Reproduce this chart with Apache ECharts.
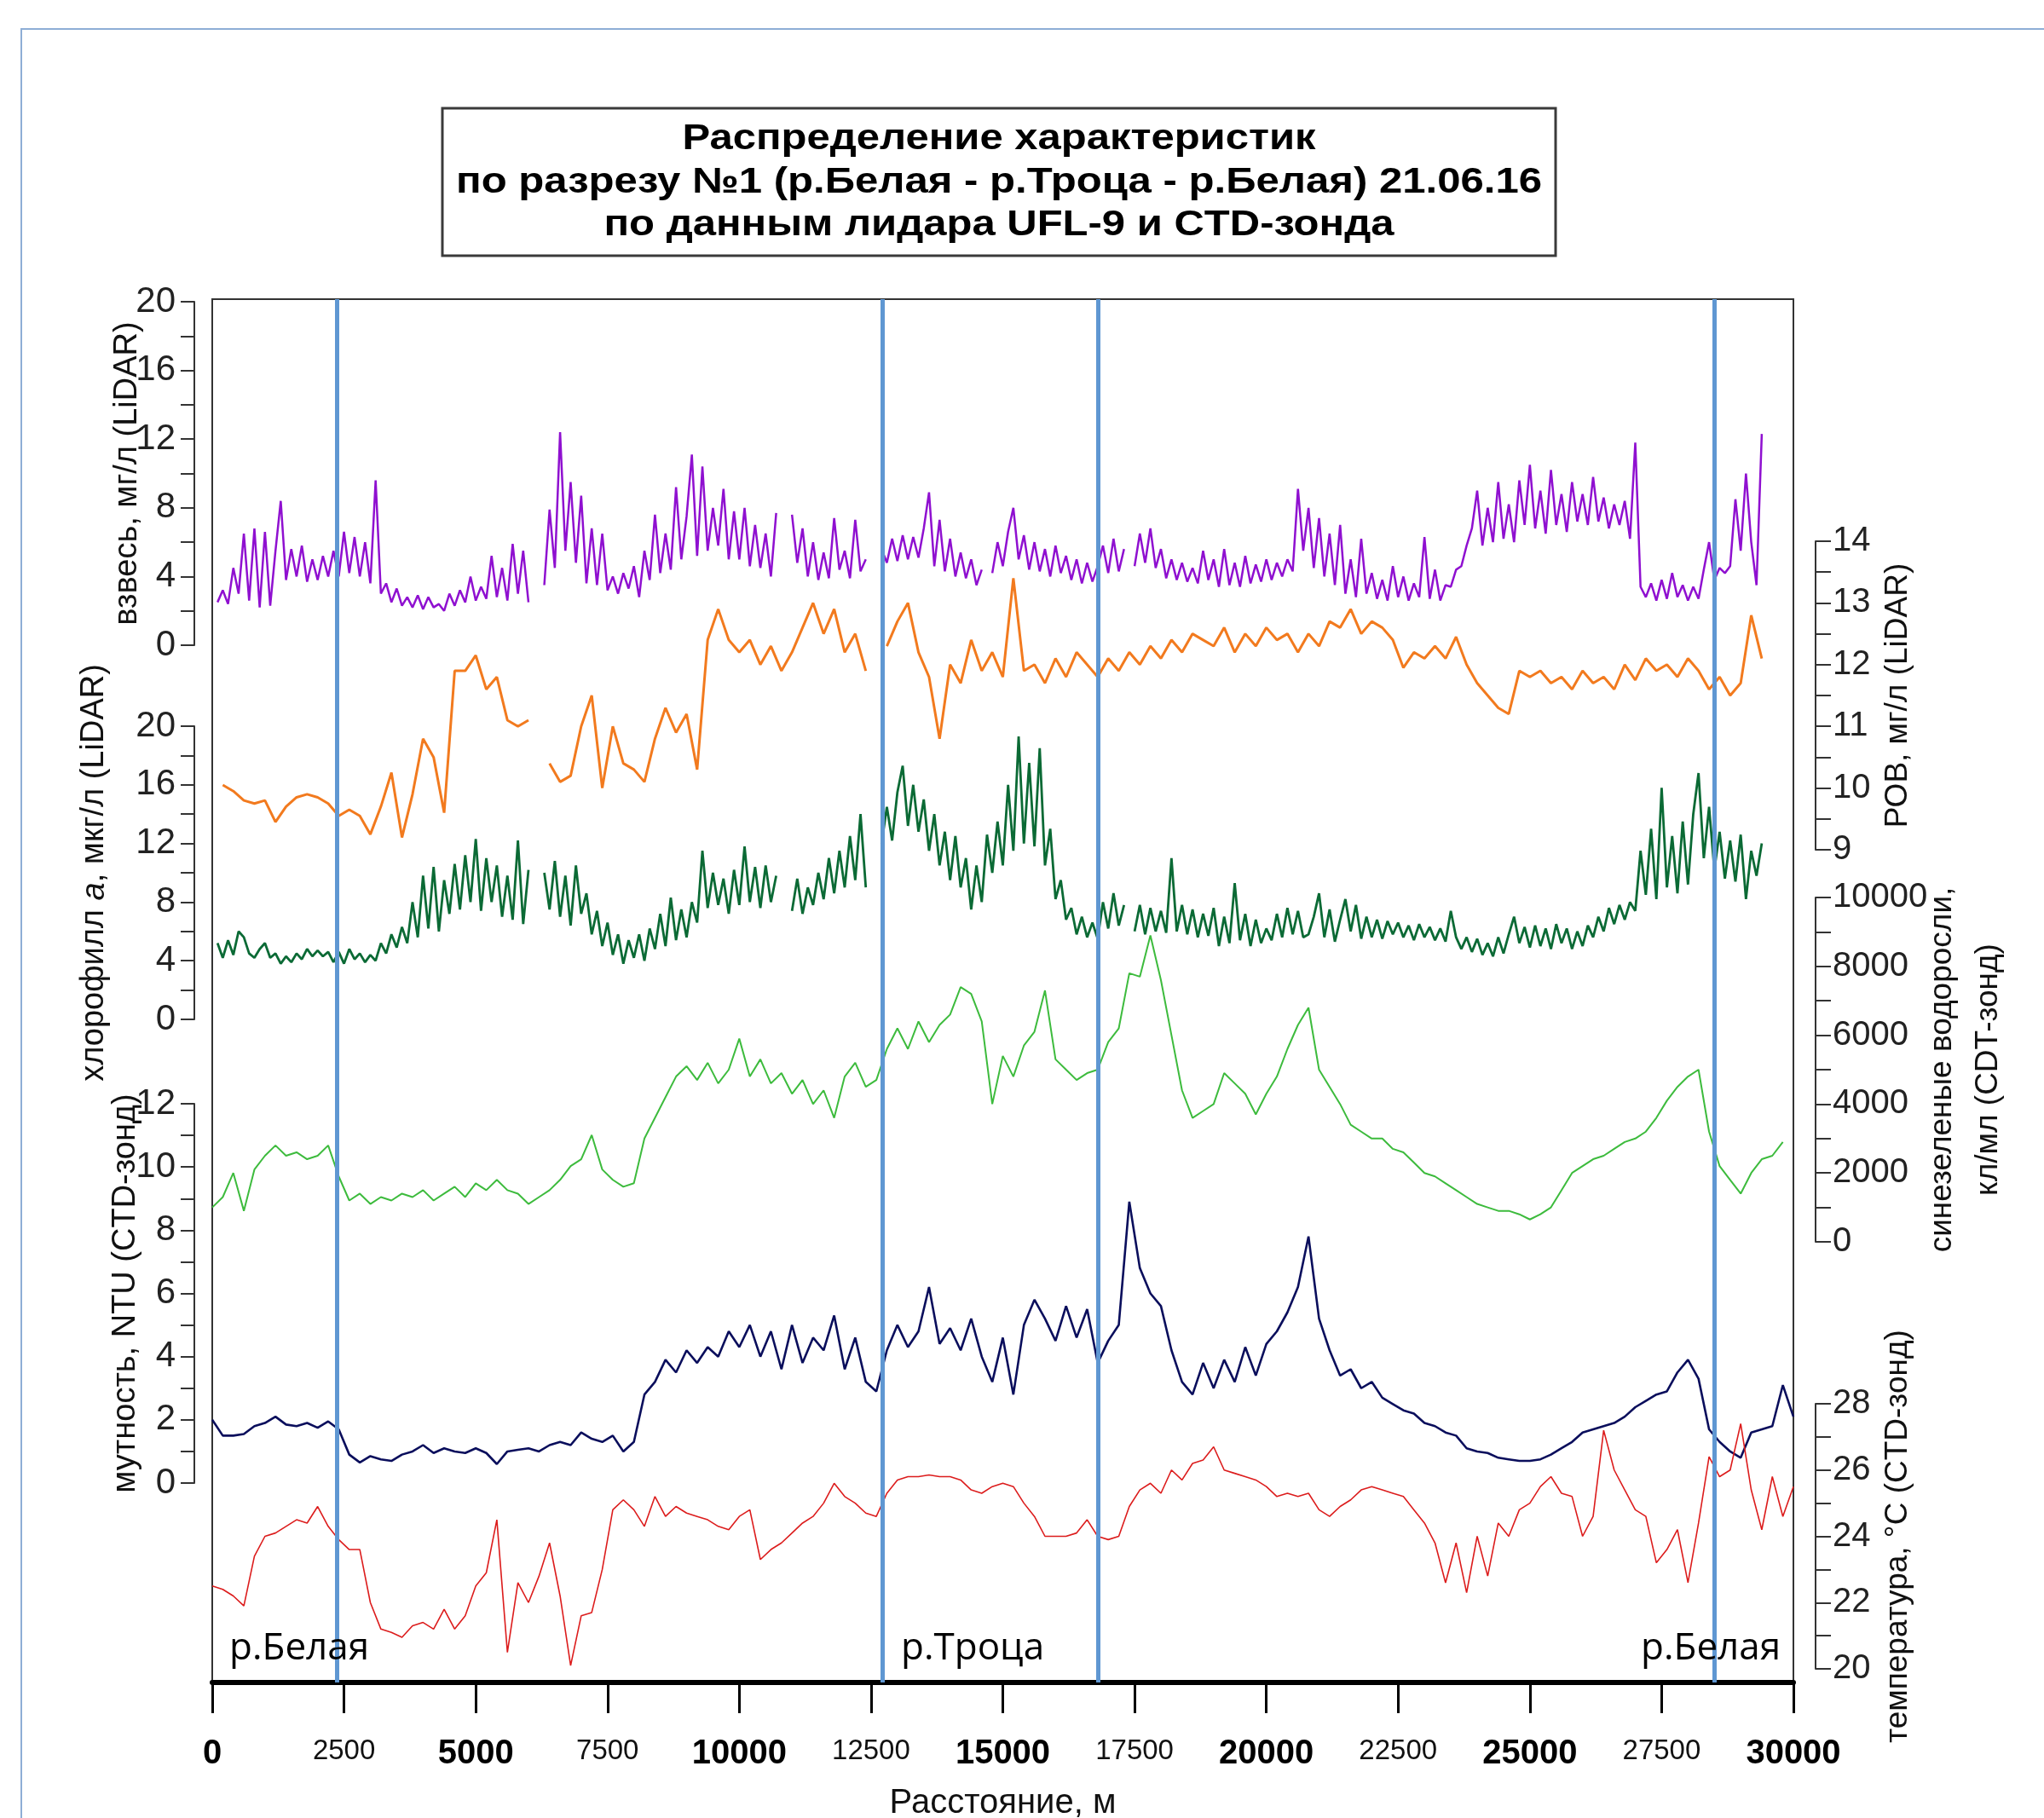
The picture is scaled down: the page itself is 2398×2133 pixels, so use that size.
<!DOCTYPE html>
<html>
<head>
<meta charset="utf-8">
<title>Распределение характеристик по разрезу №1</title>
<script src="https://cdn.jsdelivr.net/npm/echarts/dist/echarts.min.js"></script>
<style>
  html, body { margin: 0; padding: 0; background: #fff; }
  #chart { width: 2398px; height: 2133px; }
</style>
</head>
<body>
<div id="chart"></div>
<script>
// шаг по расстоянию, м
const STEP_FINE = 100;
const STEP = 200;

// взвесь, мг/л (LiDAR) — шаг 100 м
const vzves = [
  null, 2.5, 3.2, 2.4, 4.5, 3.0, 6.5, 2.6, 6.8, 2.2,
  6.6, 2.3, 5.5, 8.4, 3.8, 5.6, 4.0, 5.8, 3.7, 5.0,
  3.8, 5.2, 4.0, 5.5, 4.0, 6.6, 4.2, 6.3, 4.0, 6.0,
  3.6, 9.6, 3.0, 3.6, 2.5, 3.3, 2.3, 2.8, 2.2, 2.9,
  2.1, 2.8, 2.2, 2.4, 2.0, 3.0, 2.3, 3.2, 2.5, 4.0,
  2.6, 3.4, 2.7, 5.2, 2.8, 4.5, 2.6, 5.9, 3.0, 5.5,
  2.5, null, null, 3.5, 7.9, 4.5, 12.4, 5.5, 9.5, 4.8,
  8.7, 3.6, 6.8, 3.5, 6.5, 3.2, 4.0, 3.0, 4.2, 3.3,
  4.6, 2.8, 5.5, 3.8, 7.6, 4.2, 6.5, 4.4, 9.2, 5.0,
  7.5, 11.1, 5.2, 10.4, 5.5, 8.0, 5.8, 9.1, 5.0, 7.8,
  5.0, 8.0, 4.6, 7.0, 4.5, 6.5, 4.0, 7.7, null, null,
  7.6, 4.8, 6.8, 4.0, 6.0, 3.8, 5.4, 3.9, 7.4, 4.4,
  5.5, 3.9, 7.3, 4.3, 5.0, null, null, 5.6, 4.8, 6.2,
  4.9, 6.4, 5.0, 6.3, 5.1, 6.8, 8.9, 4.6, 7.3, 4.3,
  6.2, 4.0, 5.4, 3.9, 5.0, 3.5, 4.4, null, 4.2, 6.0,
  4.6, 6.6, 8.0, 5.0, 6.4, 4.4, 6.0, 4.3, 5.6, 4.0,
  5.8, 4.2, 5.2, 3.8, 5.0, 3.6, 4.8, 3.7, 4.6, 5.8,
  4.2, 6.2, 4.3, 5.6, null, 4.6, 6.5, 4.8, 6.8, 4.5,
  5.6, 3.9, 5.0, 3.8, 4.8, 3.7, 4.5, 3.6, 5.5, 3.8,
  5.0, 3.4, 5.6, 3.5, 4.8, 3.4, 5.2, 3.6, 4.7, 3.7,
  5.0, 3.8, 4.8, 4.0, 5.0, 4.3, 9.1, 5.5, 8.0, 4.5,
  7.4, 4.0, 6.5, 3.5, 7.0, 3.0, 5.0, 2.8, 6.2, 3.0,
  4.2, 2.7, 3.8, 2.6, 4.6, 2.8, 4.0, 2.6, 3.6, 2.8,
  6.3, 2.7, 4.4, 2.6, 3.5, 3.4, 4.4, 4.6, 5.8, 6.8,
  9.0, 5.8, 8.0, 6.0, 9.5, 6.2, 8.2, 6.0, 9.6, 7.0,
  10.5, 6.8, 9.0, 6.5, 10.2, 7.0, 8.8, 6.6, 9.5, 7.2,
  8.8, 7.0, 9.8, 7.2, 8.6, 6.8, 8.2, 7.0, 8.4, 6.2,
  11.8, 3.4, 2.8, 3.6, 2.6, 3.8, 2.7, 4.2, 2.8, 3.5,
  2.6, 3.4, 2.7, 4.4, 6.0, 3.8, 4.5, 4.2, 4.6, 8.5,
  5.5, 10.0, 6.0, 3.5, 12.3, null, null, null, null, null,
  null
];

// хлорофилл a, мкг/л (LiDAR) — шаг 100 м
const chlorophyll = [
  null, 5.2, 4.2, 5.4, 4.4, 6.0, 5.6, 4.5, 4.2, 4.8,
  5.2, 4.2, 4.5, 3.8, 4.3, 3.9, 4.5, 4.1, 4.8, 4.3,
  4.7, 4.3, 4.6, 3.9, 4.6, 3.8, 4.8, 4.1, 4.5, 3.9,
  4.4, 4.0, 5.2, 4.5, 5.8, 4.9, 6.3, 5.2, 8.0, 5.6,
  9.8, 6.2, 10.4, 6.0, 9.5, 7.2, 10.6, 7.5, 11.2, 8.0,
  12.3, 7.4, 11.0, 8.0, 10.5, 7.0, 9.8, 6.8, 12.2, 6.5,
  10.2, null, null, 10.0, 7.5, 10.8, 7.0, 9.8, 6.4, 10.5,
  7.2, 8.6, 5.8, 7.4, 5.0, 6.6, 4.4, 5.8, 3.8, 5.4,
  4.2, 5.8, 4.0, 6.2, 4.8, 7.2, 5.0, 8.3, 5.4, 7.5,
  5.6, 8.0, 6.6, 11.5, 7.6, 10.0, 7.8, 9.6, 7.2, 10.2,
  7.8, 11.8, 8.0, 10.4, 7.6, 10.5, 8.0, 9.8, null, null,
  7.4, 9.6, 7.2, 9.0, 7.8, 10.0, 8.2, 11.0, 8.6, 11.5,
  9.0, 12.5, 9.5, 14.0, 9.0, null, null, 12.0, 14.5, 12.2,
  15.5, 17.3, 13.2, 16.0, 12.8, 15.0, 11.5, 14.0, 10.5, 12.8,
  9.5, 12.5, 9.0, 11.0, 7.5, 10.5, 8.0, 12.6, 10.0, 13.5,
  10.5, 16.0, 11.5, 19.3, 12.0, 17.5, 11.8, 18.5, 10.5, 13.0,
  8.2, 9.5, 6.8, 7.6, 5.8, 7.0, 5.6, 6.6, 5.5, 8.0,
  6.2, 8.6, 6.4, 7.8, null, 6.0, 7.8, 5.8, 7.6, 6.0,
  7.4, 5.9, 11.0, 6.0, 7.8, 5.8, 7.5, 5.6, 7.2, 5.7,
  7.6, 5.0, 7.0, 5.2, 9.3, 5.4, 7.2, 5.0, 6.8, 5.2,
  6.2, 5.4, 7.2, 5.6, 7.6, 5.8, 7.4, 5.6, 5.8, 7.0,
  8.6, 5.6, 7.5, 5.3, 6.8, 8.2, 6.0, 7.8, 5.5, 7.0,
  5.6, 6.8, 5.5, 6.7, 5.8, 6.6, 5.6, 6.4, 5.4, 6.5,
  5.6, 6.3, 5.4, 6.2, 5.3, 7.4, 5.6, 4.8, 5.6, 4.6,
  5.5, 4.4, 5.2, 4.3, 5.6, 4.5, 5.8, 7.0, 5.2, 6.3,
  4.9, 6.4, 5.0, 6.2, 4.8, 6.5, 5.2, 6.2, 4.8, 6.0,
  5.0, 6.4, 5.6, 7.0, 6.0, 7.6, 6.5, 7.8, 6.8, 8.0,
  7.4, 11.5, 8.5, 13.0, 8.2, 15.8, 9.0, 12.5, 8.6, 13.5,
  9.2, 14.0, 16.8, 11.0, 14.5, 10.2, 12.8, 9.6, 12.2, 9.4,
  12.6, 8.2, 11.5, 9.8, 12.0, null, null, null, null, null,
  null
];

// РОВ, мг/л (LiDAR) — шаг 200 м
const rov = [
  null, 10.05, 9.95, 9.8, 9.75, 9.8, 9.45, 9.7, 9.85, 9.9,
  9.85, 9.75, 9.55, 9.65, 9.55, 9.25, 9.7, 10.25, 9.2, 9.9,
  10.8, 10.5, 9.6, 11.9, 11.9, 12.15, 11.6, 11.8, 11.1, 11.0,
  11.1, null, 10.4, 10.1, 10.2, 11.0, 11.5, 10.0, 11.0, 10.4,
  10.3, 10.1, 10.8, 11.3, 10.9, 11.2, 10.3, 12.4, 12.9, 12.4,
  12.2, 12.4, 12.0, 12.3, 11.9, 12.2, 12.6, 13.0, 12.5, 12.9,
  12.2, 12.5, 11.9, null, 12.3, 12.7, 13.0, 12.2, 11.8, 10.8,
  12.0, 11.7, 12.4, 11.9, 12.2, 11.8, 13.4, 11.9, 12.0, 11.7,
  12.1, 11.8, 12.2, 12.0, 11.8, 12.1, 11.9, 12.2, 12.0, 12.3,
  12.1, 12.4, 12.2, 12.5, 12.4, 12.3, 12.6, 12.2, 12.5, 12.3,
  12.6, 12.4, 12.5, 12.2, 12.5, 12.3, 12.7, 12.6, 12.9, 12.5,
  12.7, 12.6, 12.4, 11.95, 12.2, 12.1, 12.3, 12.1, 12.45, 12.0,
  11.7, 11.5, 11.3, 11.2, 11.9, 11.8, 11.9, 11.7, 11.8, 11.6,
  11.9, 11.7, 11.8, 11.6, 12.0, 11.75, 12.1, 11.9, 12.0, 11.8,
  12.1, 11.9, 11.6, 11.8, 11.5, 11.7, 12.8, 12.1, null, null,
  null
];

// синезеленые водоросли, кл/мл (CTD-зонд) — шаг 200 м
const cyano = [
  1000, 1300, 2000, 900, 2100, 2500, 2800, 2500, 2600, 2400,
  2500, 2800, 1900, 1200, 1400, 1100, 1300, 1200, 1400, 1300,
  1500, 1200, 1400, 1600, 1300, 1700, 1500, 1800, 1500, 1400,
  1100, 1300, 1500, 1800, 2200, 2400, 3100, 2100, 1800, 1600,
  1700, 3000, 3600, 4200, 4800, 5100, 4700, 5200, 4600, 5000,
  5900, 4800, 5300, 4600, 4900, 4300, 4700, 4000, 4400, 3600,
  4800, 5200, 4500, 4700, 5600, 6200, 5600, 6400, 5800, 6300,
  6600, 7400, 7200, 6400, 4000, 5400, 4800, 5700, 6100, 7300,
  5300, 5000, 4700, 4900, 5000, 5800, 6200, 7800, 7700, 8900,
  7600, 6000, 4400, 3600, 3800, 4000, 4900, 4600, 4300, 3700,
  4300, 4800, 5600, 6300, 6800, 5000, 4500, 4000, 3400, 3200,
  3000, 3000, 2700, 2600, 2300, 2000, 1900, 1700, 1500, 1300,
  1100, 1000, 900, 900, 800, 650, 800, 1000, 1500, 2000,
  2200, 2400, 2500, 2700, 2900, 3000, 3200, 3600, 4100, 4500,
  4800, 5000, 3200, 2200, 1800, 1400, 2000, 2400, 2500, 2900,
  null
];

// мутность, NTU (CTD-зонд) — шаг 200 м
const turbidity = [
  2.0, 1.5, 1.5, 1.55, 1.8, 1.9, 2.1, 1.85, 1.8, 1.9,
  1.75, 1.95, 1.7, 0.9, 0.65, 0.85, 0.75, 0.7, 0.9, 1.0,
  1.2, 0.95, 1.1, 1.0, 0.95, 1.1, 0.95, 0.6, 1.0, 1.05,
  1.1, 1.0, 1.2, 1.3, 1.2, 1.6, 1.4, 1.3, 1.5, 1.0,
  1.3, 2.8, 3.2, 3.9, 3.5, 4.2, 3.8, 4.3, 4.0, 4.8,
  4.3, 5.0, 4.0, 4.8, 3.6, 5.0, 3.8, 4.6, 4.2, 5.3,
  3.6, 4.6, 3.2, 2.9, 4.2, 5.0, 4.3, 4.8, 6.2, 4.4,
  4.9, 4.2, 5.2, 4.0, 3.2, 4.6, 2.8, 5.0, 5.8, 5.2,
  4.5, 5.6, 4.6, 5.5, 3.8, 4.5, 5.0, 8.9, 6.8, 6.0,
  5.6, 4.2, 3.2, 2.8, 3.8, 3.0, 3.9, 3.2, 4.3, 3.4,
  4.4, 4.8, 5.4, 6.2, 7.8, 5.2, 4.2, 3.4, 3.6, 3.0,
  3.2, 2.7, 2.5, 2.3, 2.2, 1.9, 1.8, 1.6, 1.5, 1.1,
  1.0, 0.95, 0.8, 0.75, 0.7, 0.7, 0.75, 0.9, 1.1, 1.3,
  1.6, 1.7, 1.8, 1.9, 2.1, 2.4, 2.6, 2.8, 2.9, 3.5,
  3.9, 3.3, 1.7, 1.3, 1.0, 0.8, 1.6, 1.7, 1.8, 3.1,
  2.1
];

// температура, °C (CTD-зонд) — шаг 200 м
const temperature = [
  22.5, 22.4, 22.2, 21.9, 23.4, 24.0, 24.1, 24.3, 24.5, 24.4,
  24.9, 24.3, 23.9, 23.6, 23.6, 22.0, 21.2, 21.1, 20.95, 21.3,
  21.4, 21.2, 21.8, 21.2, 21.6, 22.5, 22.9, 24.5, 20.5, 22.6,
  22.0, 22.8, 23.8, 22.2, 20.1, 21.6, 21.7, 23.0, 24.8, 25.1,
  24.8, 24.3, 25.2, 24.6, 24.9, 24.7, 24.6, 24.5, 24.3, 24.2,
  24.6, 24.8, 23.3, 23.6, 23.8, 24.1, 24.4, 24.6, 25.0, 25.6,
  25.2, 25.0, 24.7, 24.6, 25.3, 25.7, 25.8, 25.8, 25.85, 25.8,
  25.8, 25.7, 25.4, 25.3, 25.5, 25.6, 25.5, 25.0, 24.6, 24.0,
  24.0, 24.0, 24.1, 24.5, 24.0, 23.9, 24.0, 24.9, 25.4, 25.6,
  25.3, 26.0, 25.7, 26.2, 26.3, 26.7, 26.0, 25.9, 25.8, 25.7,
  25.5, 25.2, 25.3, 25.2, 25.3, 24.8, 24.6, 24.9, 25.1, 25.4,
  25.5, 25.4, 25.3, 25.2, 24.8, 24.4, 23.8, 22.6, 23.8, 22.3,
  24.0, 22.8, 24.4, 24.0, 24.8, 25.0, 25.5, 25.8, 25.3, 25.2,
  24.0, 24.6, 27.2, 26.0, 25.4, 24.8, 24.6, 23.2, 23.6, 24.2,
  22.6, 24.4, 26.4, 25.8, 26.0, 27.4, 25.4, 24.2, 25.8, 24.6,
  25.5
];

// положение рек (вертикальные линии), м
const riverLines = [2360, 12710, 16810, 28500];

const FONT = '"Liberation Sans", Arial, sans-serif';

const toPairs = (arr, step) => arr.map((v, i) => [i * step, v]);

const chart = echarts.init(document.getElementById('chart'), null, { renderer: 'canvas' });

// сетки: 0 — рамка, 1..6 — полосы под каждую шкалу
const L = 249, W = 1855;
const bands = [
  { top: 354, bottom: 757 },   // взвесь
  { top: 852, bottom: 1196 },  // хлорофилл
  { top: 1295, bottom: 1740 }, // мутность
  { top: 635, bottom: 997 },   // РОВ
  { top: 1053, bottom: 1457 }, // синезеленые
  { top: 1647, bottom: 1958 }  // температура
];

const grids = [{ left: L, top: 351, width: W, height: 1623, show: true,
  borderColor: '#333', borderWidth: 2, backgroundColor: 'transparent', outerBoundsMode: 'none' }];
bands.forEach(b => grids.push({ left: L, width: W, top: b.top, height: b.bottom - b.top, outerBoundsMode: 'none' }));

const xAxes = [{
  gridIndex: 0, type: 'value', min: 0, max: 30000, interval: 2500,
  axisLine: { onZero: false, lineStyle: { color: '#000', width: 6 } },
  axisTick: { length: 36, lineStyle: { color: '#000', width: 3 } },
  splitLine: { show: false },
  axisLabel: {
    margin: 64, color: '#000', fontFamily: FONT,
    formatter: v => (v % 5000 === 0 ? '{maj|' + v + '}' : '{mnr|' + v + '}'),
    rich: {
      maj: { fontSize: 40, fontWeight: 'bold', fontFamily: FONT, color: '#000' },
      mnr: { fontSize: 33, fontFamily: FONT, color: '#111' }
    }
  },
  name: 'Расстояние, м', nameLocation: 'middle', nameGap: 122, nameMoveOverlap: false,
  nameTextStyle: { fontSize: 40, fontFamily: FONT, color: '#111' }
}];
for (let i = 1; i <= 6; i++) {
  xAxes.push({ gridIndex: i, type: 'value', min: 0, max: 30000, show: false });
}

function scale(opt) {
  const left = opt.position === 'left';
  return {
    gridIndex: opt.grid, type: 'value', position: opt.position,
    offset: left ? 21 : 26,
    min: opt.min, max: opt.max, interval: opt.interval,
    axisLine: { show: true, onZero: false, lineStyle: { color: '#333', width: 2 } },
    axisTick: { show: true, length: left ? 16 : 18, lineStyle: { color: '#333', width: 2 } },
    splitLine: { show: false },
    axisLabel: {
      margin: left ? 22 : 20, fontSize: left ? 42 : 40, color: '#222', fontFamily: FONT,
      formatter: v => (Math.abs((v - opt.min) % opt.labelStep) < 1e-6 ? String(v) : '')
    },
    name: opt.name, nameLocation: 'middle', nameRotate: 90, nameGap: opt.gap,
    nameMoveOverlap: false,
    nameTextStyle: Object.assign({ fontSize: left ? 38 : 37, color: '#111',
      fontFamily: FONT, align: 'center', lineHeight: 54 }, opt.nameStyle || {})
  };
}

const yAxes = [
  scale({ grid: 1, position: 'left', min: 0, max: 20, interval: 2, labelStep: 4,
    name: 'взвесь, мг/л (LiDAR)', gap: 51 }),
  scale({ grid: 2, position: 'left', min: 0, max: 20, interval: 2, labelStep: 4,
    name: 'хлорофилл {i|a}, мкг/л (LiDAR)', gap: 90,
    nameStyle: { rich: { i: { fontStyle: 'italic', fontSize: 38, fontFamily: FONT, color: '#111' } } } }),
  scale({ grid: 3, position: 'left', min: 0, max: 12, interval: 1, labelStep: 2,
    name: 'мутность, NTU (CTD-зонд)', gap: 53 }),
  scale({ grid: 4, position: 'right', min: 9, max: 14, interval: 0.5, labelStep: 1,
    name: 'РОВ, мг/л (LiDAR)', gap: 70 }),
  scale({ grid: 5, position: 'right', min: 0, max: 10000, interval: 1000, labelStep: 2000,
    name: 'синезеленые водоросли,\nкл/мл (CDT-зонд)', gap: 122 }),
  scale({ grid: 6, position: 'right', min: 20, max: 28, interval: 1, labelStep: 2,
    name: 'температура, °C (CTD-зонд)', gap: 70 }),
  { gridIndex: 0, type: 'value', min: 0, max: 1, show: false }
];

function line(name, data, step, axis, color, width) {
  return {
    name, type: 'line', xAxisIndex: axis + 1, yAxisIndex: axis,
    data: toPairs(data, step), showSymbol: false, symbol: 'none',
    connectNulls: false, clip: false, silent: true,
    lineStyle: { color, width }, z: 3
  };
}

const series = [
  line('взвесь', vzves, STEP_FINE, 0, '#8f10d0', 2.5),
  line('хлорофилл', chlorophyll, STEP_FINE, 1, '#0b6a35', 2.8),
  line('мутность', turbidity, STEP, 2, '#0a0e5c', 2.6),
  line('РОВ', rov, STEP, 3, '#f27a1e', 3),
  line('синезеленые', cyano, STEP, 4, '#3dbb3d', 2),
  line('температура', temperature, STEP, 5, '#dc1c1c', 1.6),
  {
    name: 'реки', type: 'line', xAxisIndex: 0, yAxisIndex: 6, data: [], z: 10, silent: true,
    markLine: {
      symbol: 'none', silent: true, animation: false,
      label: { show: false },
      lineStyle: { color: '#5f97d2', width: 5, type: 'solid' },
      data: riverLines.map(x => ({ xAxis: x }))
    }
  }
];

// заголовок: ширина строк подогнана под исходник
const ctx = document.createElement('canvas').getContext('2d');
const titleFont = 'bold 42px ' + FONT;
function fit(text, target) {
  ctx.font = titleFont;
  return target / ctx.measureText(text).width;
}
const titleLines = [
  { text: 'Распределение характеристик', y: 163, w: 743 },
  { text: 'по разрезу №1 (р.Белая - р.Троца - р.Белая) 21.06.16', y: 214, w: 1274 },
  { text: 'по данным лидара UFL-9 и CTD-зонда', y: 264, w: 927 }
];

const riverFont = '44px "Open Sans", "Noto Sans", sans-serif';
const graphic = [
  { type: 'rect', silent: true, z: 0, shape: { x: 25, y: 34, width: 2500, height: 2300 },
    style: { fill: 'none', stroke: '#8eaed6', lineWidth: 2 } },
  { type: 'rect', silent: true, shape: { x: 519, y: 127, width: 1306, height: 173 },
    style: { fill: '#fff', stroke: '#3a3a3a', lineWidth: 3 } }
];
titleLines.forEach(t => graphic.push({
  type: 'text', silent: true, x: 1172, y: t.y, scaleX: fit(t.text, t.w),
  style: { text: t.text, font: titleFont, fill: '#000', align: 'center', verticalAlign: 'middle' }
}));
[
  { text: 'р.Белая', x: 269 },
  { text: 'р.Троца', x: 1057 },
  { text: 'р.Белая', x: 1925 }
].forEach(r => graphic.push({
  type: 'text', silent: true, z: 20, x: r.x, y: 1934,
  style: { text: r.text, font: riverFont, fill: '#000', align: 'left', verticalAlign: 'middle' }
}));

chart.setOption({
  backgroundColor: '#fff',
  animation: false,
  grid: grids,
  xAxis: xAxes,
  yAxis: yAxes,
  series,
  graphic
});
</script>
</body>
</html>
